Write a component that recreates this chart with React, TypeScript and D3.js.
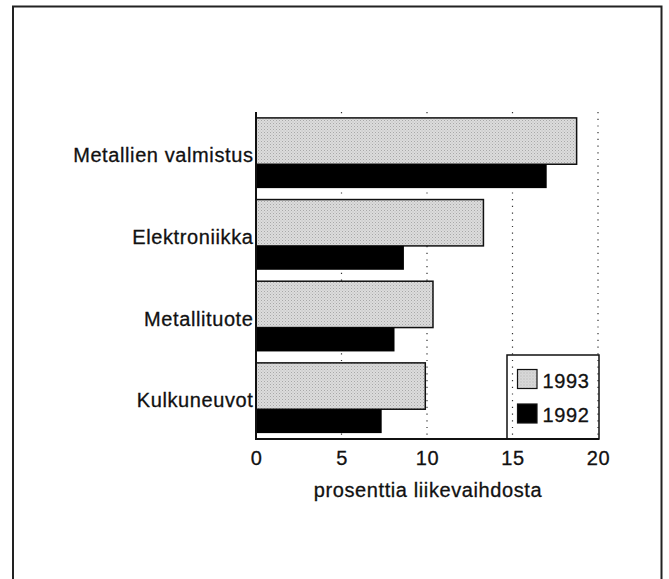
import React, { useRef, useEffect } from 'react';
import * as d3 from 'd3';

const categories = ['Metallien valmistus', 'Elektroniikka', 'Metallituote', 'Kulkuneuvot'];
const values1993 = [18.75, 13.3, 10.35, 9.9];
const values1992 = [17.0, 8.65, 8.1, 7.35];
const seriesNames = ['1993', '1992'];
const xTicks = [0, 5, 10, 15, 20];
const axisTitle = 'prosenttia liikevaihdosta';

const App = () => {
  const svgRef = useRef<SVGSVGElement>(null);

  useEffect(() => {
    const width = 669;
    const height = 579;
    const font = '"Liberation Sans", Arial, Helvetica, sans-serif';
    const fontSize = 20;
    const spacing = '0.6px';

    const svg = d3.select(svgRef.current)
      .attr('width', width)
      .attr('height', height);
    svg.selectAll('*').remove();

    // light gray stipple for the 1993 bars
    const defs = svg.append('defs');
    const pat = defs.append('pattern')
      .attr('id', 'stipple')
      .attr('width', 3)
      .attr('height', 3)
      .attr('patternUnits', 'userSpaceOnUse');
    pat.append('rect').attr('width', 3).attr('height', 3).attr('fill', '#dcdcdc');
    pat.append('rect').attr('x', 0).attr('y', 0).attr('width', 1).attr('height', 1).attr('fill', '#a8a8a8');
    pat.append('rect').attr('x', 1.5).attr('y', 1.5).attr('width', 1).attr('height', 1).attr('fill', '#b8b8b8');

    // outer frame (open at the bottom)
    svg.append('path')
      .attr('d', `M13,${height} V6.5 H661.5 V${height}`)
      .attr('fill', 'none')
      .attr('stroke', '#222')
      .attr('stroke-width', 2);

    const x = d3.scaleLinear().domain([0, 20]).range([256, 598]);
    const y = d3.scaleBand<string>()
      .domain(categories)
      .range([113, 438])
      .paddingInner(0.14)
      .paddingOuter(0.06);
    const bw = y.bandwidth();
    const share = 0.66; // 1993 bar takes the upper part of each group

    // dotted gridlines
    svg.append('g')
      .selectAll('line')
      .data(xTicks.filter(d => d > 0))
      .join('line')
      .attr('x1', d => x(d))
      .attr('x2', d => x(d))
      .attr('y1', 112)
      .attr('y2', 439)
      .attr('stroke', '#333')
      .attr('stroke-width', 1.2)
      .attr('stroke-dasharray', '1.2,5.5');

    // bars
    const g = svg.append('g');
    g.selectAll('rect.b93')
      .data(categories)
      .join('rect')
      .attr('class', 'b93')
      .attr('x', x(0))
      .attr('y', d => y(d)!)
      .attr('width', (d, i) => x(values1993[i]) - x(0))
      .attr('height', bw * share)
      .attr('fill', 'url(#stipple)')
      .attr('stroke', '#111')
      .attr('stroke-width', 1.5);

    g.selectAll('rect.b92')
      .data(categories)
      .join('rect')
      .attr('class', 'b92')
      .attr('x', x(0))
      .attr('y', d => y(d)! + bw * share)
      .attr('width', (d, i) => x(values1992[i]) - x(0))
      .attr('height', bw * (1 - share))
      .attr('fill', '#000');

    const styleText = (sel: any) => sel
      .attr('font-family', font)
      .attr('font-size', fontSize)
      .attr('letter-spacing', spacing)
      .attr('fill', '#111')
      .attr('stroke', '#111')
      .attr('stroke-width', 0.3);

    // category labels
    svg.append('g')
      .selectAll('text')
      .data(categories)
      .join('text')
      .attr('x', 253.5)
      .attr('y', d => y(d)! + bw * share - 2)
      .attr('text-anchor', 'end')
      .call(styleText)
      .text(d => d);

    // axis lines
    svg.append('path')
      .attr('d', `M${x(0)},112 V439 H${x(20) + 1}`)
      .attr('fill', 'none')
      .attr('stroke', '#111')
      .attr('stroke-width', 2);

    // tick labels
    svg.append('g')
      .selectAll('text')
      .data(xTicks)
      .join('text')
      .attr('x', d => x(d) + 0.5)
      .attr('y', 465)
      .attr('text-anchor', 'middle')
      .call(styleText)
      .text(d => d);

    svg.append('text')
      .attr('x', x(10) + 1)
      .attr('y', 497)
      .attr('text-anchor', 'middle')
      .call(styleText)
      .text(axisTitle);

    // legend
    const legend = svg.append('g');
    legend.append('rect')
      .attr('x', 507)
      .attr('y', 355)
      .attr('width', x(20) + 1 - 507)
      .attr('height', 84)
      .attr('fill', 'none')
      .attr('stroke', '#111')
      .attr('stroke-width', 1.5);

    const items = legend.selectAll('g.item')
      .data(seriesNames)
      .join('g')
      .attr('class', 'item')
      .attr('transform', (d, i) => `translate(517.5,${369.5 + i * 34.5})`);
    items.append('rect')
      .attr('width', 19.5)
      .attr('height', 19)
      .attr('fill', (d, i) => (i === 0 ? 'url(#stipple)' : '#000'))
      .attr('stroke', '#111')
      .attr('stroke-width', 1.2);
    items.append('text')
      .attr('x', 25)
      .attr('y', 18)
      .call(styleText)
      .text(d => d);
  }, []);

  return (
    <svg
      ref={svgRef}
      style={{ position: 'absolute', left: 0, top: 0, background: '#fff' }}
    />
  );
};

export default App;
